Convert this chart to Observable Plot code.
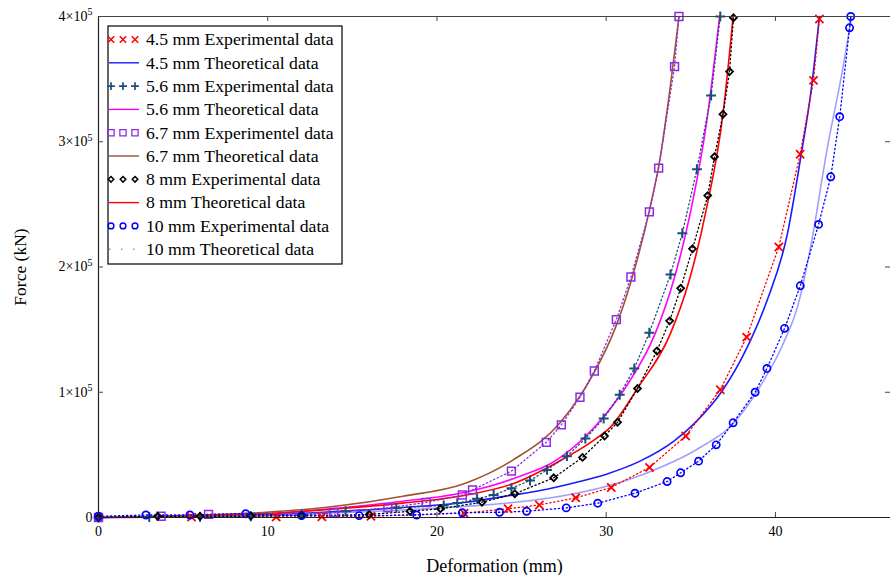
<!DOCTYPE html>
<html><head><meta charset="utf-8">
<script src="https://cdn.jsdelivr.net/npm/d3@7"></script>
<script src="https://cdn.jsdelivr.net/npm/@observablehq/plot@0.6"></script>
<style>
body{margin:0;background:#fff}
#chart{position:relative;width:890px;height:575px}
</style>
</head><body><div id="chart"></div>
<script>
// ---- data (x: deformation in mm, F: force in units of 1e5 kN) ----
const seriesLabels = [
  "4.5 mm Experimental data", "4.5 mm Theoretical data",
  "5.6 mm Experimental data", "5.6 mm Theoretical data",
  "6.7 mm Experimentel data", "6.7 mm Theoretical data",
  "8 mm Experimental data", "8 mm Theoretical data",
  "10 mm Experimental data", "10 mm Theoretical data"
];
const xTicks = [0, 10, 20, 30, 40];
const yTicks = [0, 1e5, 2e5, 3e5, 4e5];
const yUnit = 1e5;

const exp45 = [[0,0],[5.5,0.003],[10.5,0.004],[13.2,0.006],[16.1,0.01],[21.6,0.035],[24.2,0.07],[26.05,0.1],[28.2,0.157],[30.3,0.24],[32.56,0.40],[34.7,0.65],[36.74,1.02],[38.3,1.44],[40.2,2.16],[41.46,2.9],[42.25,3.49],[42.6,3.98]];
const theo45 = [[0,0],[5,0.005],[10,0.02],[13.7,0.045],[18,0.08],[21.6,0.12],[24.5,0.18],[26.1,0.216],[28.2,0.28],[30.1,0.35],[32,0.45],[34.0,0.61],[35.2,0.75],[36.85,1.01],[38.3,1.35],[39.5,1.73],[40.7,2.26],[41.5,2.88],[42.1,3.4],[42.6,4.0]];
const exp56 = [[0,0],[3,0.003],[6,0.005],[9,0.01],[12,0.02],[14.6,0.05],[17.6,0.077],[20.4,0.096],[21.2,0.115],[22.37,0.15],[23.35,0.18],[24.4,0.234],[25.5,0.295],[26.5,0.38],[27.68,0.49],[28.77,0.63],[29.85,0.79],[30.8,0.98],[31.66,1.19],[32.55,1.475],[33.8,1.94],[34.5,2.27],[35.36,2.78],[36.2,3.37],[36.74,4.0]];
const theo56 = [[0,0],[5,0.01],[10,0.03],[13.7,0.07],[18,0.13],[21.6,0.2],[24.5,0.31],[27.3,0.48],[29.3,0.72],[31.2,1.05],[32.9,1.47],[33.98,1.89],[35.0,2.45],[35.95,3.17],[36.7,4.0]];
const exp67 = [[0,0],[3.7,0.01],[6.5,0.025],[13.9,0.04],[17.1,0.077],[19.36,0.12],[21.5,0.18],[22.1,0.22],[24.4,0.37],[26.46,0.60],[27.35,0.74],[28.45,0.96],[29.3,1.17],[30.6,1.58],[31.46,1.92],[32.55,2.44],[33.1,2.79],[34.04,3.60],[34.3,4.0]];
const theo67 = [[0,0],[5,0.015],[9.7,0.04],[14,0.09],[18,0.17],[21.6,0.27],[24.5,0.46],[27.3,0.76],[29.26,1.15],[30.5,1.5],[31.5,1.9],[32.6,2.48],[33.2,2.88],[33.6,3.25],[34.3,4.0]];
const exp8 = [[0,0],[3.5,0.01],[6,0.01],[9,0.012],[12,0.015],[16,0.024],[18.4,0.05],[20.2,0.07],[22.66,0.122],[24.6,0.19],[26.9,0.317],[28.6,0.48],[29.9,0.65],[30.67,0.76],[31.85,1.03],[33.0,1.33],[33.75,1.57],[34.4,1.83],[35.1,2.145],[36.0,2.57],[36.4,2.88],[36.9,3.22],[37.29,3.56],[37.52,3.99]];
const theo8 = [[0,0],[5,0.01],[10,0.03],[13.7,0.065],[18,0.115],[21.6,0.176],[24.5,0.27],[27.3,0.455],[29.3,0.62],[30.24,0.72],[31.87,1.035],[33.8,1.47],[34.9,1.89],[35.9,2.45],[36.9,3.22],[37.5,4.0]];
const exp10 = [[0,0.01],[2.8,0.02],[5.4,0.02],[8.7,0.03],[12,0.015],[15.4,0.015],[18.8,0.02],[21.5,0.038],[23.7,0.042],[25.3,0.05],[27.64,0.077],[29.5,0.114],[31.7,0.194],[33.6,0.287],[34.4,0.357],[35.46,0.45],[36.5,0.58],[37.5,0.756],[38.8,1.0],[39.5,1.19],[40.54,1.51],[41.47,1.85],[42.55,2.34],[43.27,2.72],[43.8,3.2],[44.38,3.91],[44.45,4.0]];
const theo10 = [[0,0],[5,0.003],[10,0.015],[13.7,0.035],[18,0.06],[21.6,0.088],[24.5,0.12],[27.3,0.17],[30.3,0.26],[33.2,0.40],[35.56,0.56],[37.5,0.75],[39.5,1.14],[40.5,1.4],[41.4,1.73],[42.2,2.25],[43.0,2.9],[44.0,3.6],[44.5,4.0]];

// ---- styles ----
const styles = [
  {data: exp45, kind: "exp", color: "#ff0000", symbol: "times", r: 3.8, sw: 1.8},
  {data: theo45, kind: "theo", color: "#1a1aff"},
  {data: exp56, kind: "exp", color: "#1a4e7a", symbol: "plus", r: 3.3, sw: 2},
  {data: theo56, kind: "theo", color: "#ff00ff"},
  {data: exp67, kind: "exp", color: "#8a2be2", symbol: "square2", r: 5.0, sw: 1.5},
  {data: theo67, kind: "theo", color: "#a0522d"},
  {data: exp8, kind: "exp", color: "#000000", symbol: "diamond2", r: 3.1, sw: 1.8},
  {data: theo8, kind: "theo", color: "#ff0000"},
  {data: exp10, kind: "exp", color: "#0000ff", symbol: "circle", r: 3.6, sw: 1.7},
  {data: theo10, kind: "theo", color: "#8c8cff", dash: "2,1"}
];
const toRows = (arr, i) => arr.map(([x, f]) => ({series: seriesLabels[i], x, y: f * yUnit}));

const W = 890, H = 575, mL = 98, mR = 0, mT = 16, mB = 58;
const innerW = W - mL - mR, innerH = H - mT - mB;

const marks = [];
styles.forEach((s, i) => {
  if (s.kind !== "theo") return;
  marks.push(Plot.line(toRows(s.data, i), {x: "x", y: "y", stroke: s.color, strokeWidth: 1.6,
    strokeDasharray: s.dash || null, curve: "monotone-x", strokeOpacity: s.dash ? 0.85 : 1}));
});
styles.forEach((s, i) => {
  if (s.kind !== "exp") return;
  marks.push(Plot.line(toRows(s.data, i), {x: "x", y: "y", stroke: s.color, strokeWidth: 1.3,
    strokeDasharray: "1.3,2.7"}));
});
styles.forEach((s, i) => {
  if (s.kind !== "exp") return;
  marks.push(Plot.dot(toRows(s.data, i), {x: "x", y: "y", stroke: s.color, fill: "none",
    symbol: s.symbol, r: s.r, strokeWidth: s.sw}));
});

const plot = Plot.plot({
  width: W, height: H,
  marginLeft: mL, marginRight: mR, marginTop: mT, marginBottom: mB,
  x: {domain: [0, 46.8]},
  y: {domain: [0, 4e5]},
  style: {fontFamily: "'Liberation Serif', 'Times New Roman', serif", fontSize: "14px", color: "#000", background: "#fff"},
  marks: [
    ...marks,
    Plot.ruleX([0], {stroke: "#222", strokeWidth: 1.2}),
    Plot.ruleY([0], {stroke: "#222", strokeWidth: 1.2}),
    Plot.ruleY([4e5], {stroke: "#444", strokeWidth: 1}),
    Plot.ruleX(xTicks.slice(1), {x: d => d, insetTop: innerH - 5, stroke: "#444"}),
    Plot.ruleX(xTicks.slice(1), {x: d => d, insetBottom: innerH - 5, stroke: "#444"}),
    Plot.ruleY(yTicks.slice(1, -1), {y: d => d, insetRight: innerW - 5, stroke: "#444"}),
    Plot.ruleY(yTicks.slice(1, -1), {y: d => d, insetLeft: innerW - 5, stroke: "#444"}),
    Plot.axisX({ticks: xTicks, tickSize: 0, tickPadding: 9, label: null, tickFormat: d => String(d)}),
    Plot.axisY({ticks: yTicks, tickSize: 0, tickPadding: 6, label: null,
      tickFormat: d => d === 0 ? "0" : `${d / yUnit}×10^5`}),
    Plot.text(["Deformation (mm)"], {text: d => d, frameAnchor: "bottom", textAnchor: "middle",
      lineAnchor: "middle", dy: 49, fontSize: 18}),
    Plot.text(["Force (kN)"], {text: d => d, frameAnchor: "left", textAnchor: "middle",
      lineAnchor: "middle", rotate: -90, dx: -78, fontSize: 17.5})
  ]
});
document.getElementById("chart").appendChild(plot);

const svg = d3.select(plot);
svg.selectAll("text").each(function () {
  const t = this.textContent;
  if (t.includes("^")) {
    const [a, b] = t.split("^");
    const s = d3.select(this);
    s.selectAll("*").remove();
    s.text(null);
    s.append("tspan").text(a);
    s.append("tspan").attr("dy", "-0.55em").attr("font-size", "10px").text(b);
  }
});

// legend inside the plot area
const lg = svg.append("g")
  .attr("font-family", "'Liberation Serif', 'Times New Roman', serif")
  .attr("font-size", 17.7).attr("text-anchor", "start");
const bx = 108, by = 26, bw = 234, bh = 238;
lg.append("rect").attr("x", bx).attr("y", by).attr("width", bw).attr("height", bh)
  .attr("fill", "#fff").attr("stroke", "#000").attr("stroke-width", 1.2);
const symMap = {times: d3.symbolTimes, plus: d3.symbolPlus, square2: d3.symbolSquare2, diamond2: d3.symbolDiamond2, circle: d3.symbolCircle};
styles.forEach((s, i) => {
  const cy = 39.5 + i * 23.3;
  if (s.kind === "exp") {
    const rr = s.r * 0.8;
    [111, 123, 135].forEach(cx => {
      lg.append("path").attr("transform", `translate(${cx},${cy})`)
        .attr("d", d3.symbol(symMap[s.symbol], rr * rr * Math.PI)())
        .attr("fill", "none").attr("stroke", s.color).attr("stroke-width", s.sw * 0.85);
    });
  } else if (s.dash) {
    lg.append("line").attr("x1", 109).attr("x2", 140).attr("y1", cy).attr("y2", cy)
      .attr("stroke", s.color).attr("stroke-width", 1.4).attr("stroke-dasharray", "1.5,10.5");
  } else {
    lg.append("line").attr("x1", 109).attr("x2", 139).attr("y1", cy).attr("y2", cy)
      .attr("stroke", s.color).attr("stroke-width", 1.4);
  }
  lg.append("text").attr("x", 146).attr("y", cy).attr("dy", "0.33em").attr("fill", "#000")
    .attr("text-anchor", "start").text(seriesLabels[i]);
});
</script>
</body></html>
